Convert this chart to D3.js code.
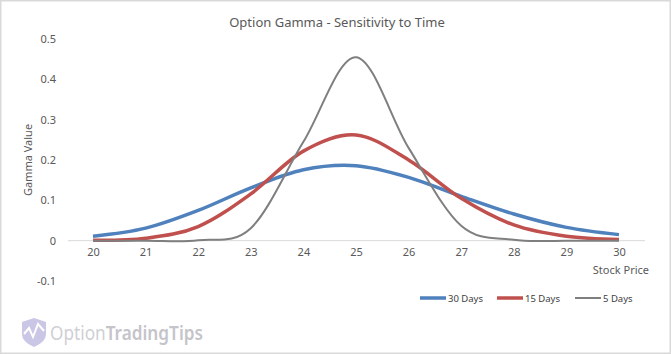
<!DOCTYPE html>
<html>
<head>
<meta charset="utf-8">
<script src="https://cdn.jsdelivr.net/npm/d3@7"></script>
<style>
  body { margin: 0; background: #fff; }
  text { font-family: "Noto Sans", sans-serif; fill: #595959; }
</style>
</head>
<body>
<div id="chart"></div>
<script>
// stock prices on the x axis
var prices = [20, 21, 22, 23, 24, 25, 26, 27, 28, 29, 30];
// gamma values
var days30 = [0.011, 0.031, 0.075, 0.131, 0.176, 0.186, 0.157, 0.110, 0.066, 0.033, 0.015];
var days15 = [0.001, 0.006, 0.035, 0.116, 0.222, 0.262, 0.200, 0.105, 0.039, 0.011, 0.003];
var days5 = [0.000, 0.000, 0.001, 0.031, 0.245, 0.455, 0.230, 0.037, 0.002, 0.000, 0.000];
var yTicks = [-0.1, 0, 0.1, 0.2, 0.3, 0.4, 0.5];
var seriesNames = ["30 Days", "15 Days", "5 Days"];
var seriesColors = ["#4f81bd", "#c0504d", "#7f7f7f"];
var seriesWidths = [3.5, 3.5, 2];

var w = 671;
var h = 354;

var svg = d3.select("#chart")
  .append("svg")
  .attr("width", w)
  .attr("height", h);

// outer frame
svg.append("rect")
  .attr("x", 0.5).attr("y", 0.5)
  .attr("width", w - 1).attr("height", h - 1)
  .style("fill", "#fff")
  .style("stroke", "#d9d9d9")
  .style("stroke-width", 2);

var xscale = d3.scalePoint()
  .domain(prices)
  .range([93, 619]);

var yscale = d3.scaleLinear()
  .domain([-0.1, 0.5])
  .range([281, 39]);

// title
svg.append("text")
  .attr("x", 337)
  .attr("y", 27)
  .attr("text-anchor", "middle")
  .style("font-size", "13px")
  .text("Option Gamma - Sensitivity to Time");

// y tick labels
svg.selectAll(".ytick")
  .data(yTicks)
  .enter().append("text")
  .attr("class", "ytick")
  .attr("x", 56)
  .attr("y", function(d) { return yscale(d) + 4; })
  .attr("text-anchor", "end")
  .style("font-size", "11px")
  .text(function(d) { return d === 0 ? "0" : d.toFixed(1); });

// zero axis line with category labels
var xaxis = d3.axisBottom(xscale)
  .tickSize(0)
  .tickPadding(8);

var gx = svg.append("g")
  .attr("transform", "translate(0," + yscale(0) + ")")
  .call(xaxis);
gx.select(".domain").remove();
gx.selectAll("text")
  .style("font-size", "11px")
  .style("font-family", "Noto Sans, sans-serif")
  .attr("fill", "#595959");

svg.append("line")
  .attr("x1", 68).attr("x2", 645)
  .attr("y1", yscale(0)).attr("y2", yscale(0))
  .style("stroke", "#d9d9d9")
  .style("stroke-width", 1);

// axis titles
svg.append("text")
  .attr("transform", "translate(32,160) rotate(-90)")
  .attr("text-anchor", "middle")
  .style("font-size", "11px")
  .text("Gamma Value");

svg.append("text")
  .attr("x", 649)
  .attr("y", 274)
  .attr("text-anchor", "end")
  .style("font-size", "11px")
  .text("Stock Price");

// lines
var series = [days30, days15, days5];
var line = d3.line()
  .x(function(d, i) { return xscale(prices[i]); })
  .y(function(d) { return yscale(d); })
  .curve(d3.curveCardinal.tension(0));

svg.selectAll(".series")
  .data(series)
  .enter().append("path")
  .attr("class", "series")
  .attr("d", line)
  .style("fill", "none")
  .style("stroke", function(d, i) { return seriesColors[i]; })
  .style("stroke-width", function(d, i) { return seriesWidths[i]; })
  .style("stroke-linejoin", "round");

// legend
var legendX = [420, 497, 575];
var legend = svg.selectAll(".legend")
  .data(seriesNames)
  .enter().append("g")
  .attr("class", "legend")
  .attr("transform", function(d, i) { return "translate(" + legendX[i] + ",298)"; });

legend.append("line")
  .attr("x1", 0).attr("x2", 26)
  .style("stroke", function(d, i) { return seriesColors[i]; })
  .style("stroke-width", function(d, i) { return seriesWidths[i]; });

legend.append("text")
  .attr("x", 28)
  .attr("y", 3.5)
  .style("font-size", "9.5px")
  .style("fill", "#404040")
  .text(function(d) { return d; });

// watermark
var wm = svg.append("g").attr("transform", "translate(20,318)");
wm.append("path")
  .attr("d", "M2,4 L14,0 L26,4 L26,16 Q26,24 14,29 Q2,24 2,16 Z")
  .style("fill", "#c9c6e6");
wm.append("path")
  .attr("d", "M4,16 L9,10 L13,19 L18,6 L24,13")
  .style("fill", "none")
  .style("stroke", "#fff")
  .style("stroke-width", 2);
var wt = wm.append("text")
  .attr("x", 30)
  .attr("y", 22)
  .attr("textLength", 153)
  .attr("lengthAdjust", "spacingAndGlyphs")
  .style("font-size", "19px");
wt.append("tspan").style("fill", "#cfcfd4").text("Option");
wt.append("tspan").style("fill", "#c4c4ca").style("font-weight", "600").text("TradingTips");
</script>
</body>
</html>
